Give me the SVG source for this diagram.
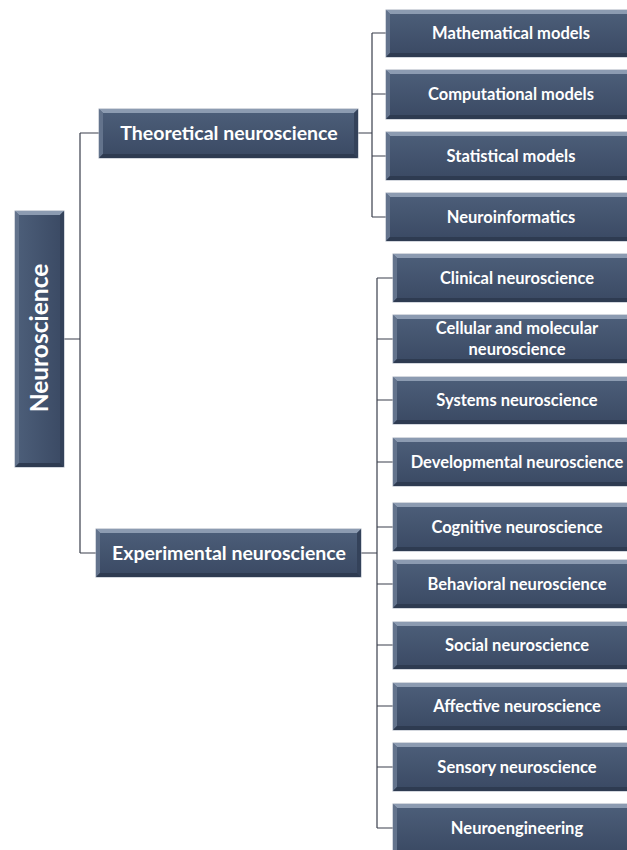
<svg xmlns="http://www.w3.org/2000/svg" width="627" height="850" viewBox="0 0 627 850">
<defs>
<linearGradient id="g" x1="0" y1="0" x2="0" y2="1">
<stop offset="0" stop-color="#4d5f7a"/>
<stop offset="1" stop-color="#3a4963"/>
</linearGradient>
<linearGradient id="gv" x1="0" y1="0" x2="1" y2="0">
<stop offset="0" stop-color="#4d5f7a"/>
<stop offset="1" stop-color="#3a4963"/>
</linearGradient>
</defs>
<style>
.body{fill:url(#g);stroke:#a7b0bd;stroke-width:1}
.tb{fill:#8c9bb1}
.lb{fill:#63738c}
.rb{fill:#34425a}
.bb{fill:#2e3b51}
.t{fill:#ffffff;font-family:Lato,"Liberation Sans",sans-serif;font-weight:bold;text-anchor:middle}
.s{font-size:16.5px}
.m{font-size:19.5px}
.l{font-size:24.5px}
.c{fill:none;stroke:#3a3f4c;stroke-width:1.2}
</style>
<rect width="627" height="850" fill="#ffffff"/>
<g id="connectors">
<path class="c" d="M64 339H80M80 133V553M80 133H99M80 553H96"/>
<path class="c" d="M358 133H372M372 33V217M372 33H386M372 94H386M372 156H386M372 217H386"/>
<path class="c" d="M361 553H377M377 278V828M377 278H393M377 339H393M377 400H393M377 462H393M377 527H393M377 584H393M377 645H393M377 706H393M377 767H393M377 828H393"/>
</g>
<g id="n-root">
<rect class="body" x="15" y="211" width="49" height="256" style="fill:url(#gv)"/>
<polygon class="tb" points="15,211 64,211 60,215 19,215"/>
<polygon class="lb" points="15,211 19,215 19,463 15,467"/>
<polygon class="rb" points="64,211 64,467 60,463 60,215"/>
<polygon class="bb" points="15,467 19,463 60,463 64,467"/>
<text class="t l" transform="translate(47.5,338) rotate(-90)">Neuroscience</text>
</g>
<g id="n-theoretical">
<rect class="body" x="99" y="109" width="259" height="49"/>
<polygon class="tb" points="99,109 358,109 354,113 103,113"/>
<polygon class="lb" points="99,109 103,113 103,154 99,158"/>
<polygon class="rb" points="358,109 358,158 354,154 354,113"/>
<polygon class="bb" points="99,158 103,154 354,154 358,158"/>
<text class="t m" x="229" y="140">Theoretical neuroscience</text>
</g>
<g id="n-experimental">
<rect class="body" x="96" y="529" width="265" height="48"/>
<polygon class="tb" points="96,529 361,529 357,533 100,533"/>
<polygon class="lb" points="96,529 100,533 100,573 96,577"/>
<polygon class="rb" points="361,529 361,577 357,573 357,533"/>
<polygon class="bb" points="96,577 100,573 357,573 361,577"/>
<text class="t m" x="229" y="559.5">Experimental neuroscience</text>
</g>
<g id="n-math">
<rect class="body" x="386" y="10" width="246" height="47"/>
<polygon class="tb" points="386,10 632,10 628,14 390,14"/>
<polygon class="lb" points="386,10 390,14 390,53 386,57"/>
<polygon class="bb" points="386,57 390,53 628,53 632,57"/>
<text class="t s" x="511" y="39">Mathematical models</text>
</g>
<g id="n-comp">
<rect class="body" x="386" y="70" width="246" height="49"/>
<polygon class="tb" points="386,70 632,70 628,74 390,74"/>
<polygon class="lb" points="386,70 390,74 390,115 386,119"/>
<polygon class="bb" points="386,119 390,115 628,115 632,119"/>
<text class="t s" x="511" y="100">Computational models</text>
</g>
<g id="n-stat">
<rect class="body" x="386" y="132" width="246" height="48"/>
<polygon class="tb" points="386,132 632,132 628,136 390,136"/>
<polygon class="lb" points="386,132 390,136 390,176 386,180"/>
<polygon class="bb" points="386,180 390,176 628,176 632,180"/>
<text class="t s" x="511" y="161.5">Statistical models</text>
</g>
<g id="n-neuroinf">
<rect class="body" x="386" y="193" width="246" height="48"/>
<polygon class="tb" points="386,193 632,193 628,197 390,197"/>
<polygon class="lb" points="386,193 390,197 390,237 386,241"/>
<polygon class="bb" points="386,241 390,237 628,237 632,241"/>
<text class="t s" x="511" y="222.5">Neuroinformatics</text>
</g>
<g id="n-clinical">
<rect class="body" x="393" y="254" width="239" height="48"/>
<polygon class="tb" points="393,254 632,254 628,258 397,258"/>
<polygon class="lb" points="393,254 397,258 397,298 393,302"/>
<polygon class="bb" points="393,302 397,298 628,298 632,302"/>
<text class="t s" x="517" y="283.5">Clinical neuroscience</text>
</g>
<g id="n-cellular">
<rect class="body" x="393" y="315" width="239" height="48"/>
<polygon class="tb" points="393,315 632,315 628,319 397,319"/>
<polygon class="lb" points="393,315 397,319 397,359 393,363"/>
<polygon class="bb" points="393,363 397,359 628,359 632,363"/>
<text class="t s" x="517" y="334">Cellular and molecular</text>
<text class="t s" x="517" y="354.5">neuroscience</text>
</g>
<g id="n-systems">
<rect class="body" x="393" y="377" width="239" height="47"/>
<polygon class="tb" points="393,377 632,377 628,381 397,381"/>
<polygon class="lb" points="393,377 397,381 397,420 393,424"/>
<polygon class="bb" points="393,424 397,420 628,420 632,424"/>
<text class="t s" x="517" y="406">Systems neuroscience</text>
</g>
<g id="n-developmental">
<rect class="body" x="393" y="438" width="239" height="48"/>
<polygon class="tb" points="393,438 632,438 628,442 397,442"/>
<polygon class="lb" points="393,438 397,442 397,482 393,486"/>
<polygon class="bb" points="393,486 397,482 628,482 632,486"/>
<text class="t s" x="517" y="467.5">Developmental neuroscience</text>
</g>
<g id="n-cognitive">
<rect class="body" x="393" y="503" width="239" height="48"/>
<polygon class="tb" points="393,503 632,503 628,507 397,507"/>
<polygon class="lb" points="393,503 397,507 397,547 393,551"/>
<polygon class="bb" points="393,551 397,547 628,547 632,551"/>
<text class="t s" x="517" y="532.5">Cognitive neuroscience</text>
</g>
<g id="n-behavioral">
<rect class="body" x="393" y="560" width="239" height="48"/>
<polygon class="tb" points="393,560 632,560 628,564 397,564"/>
<polygon class="lb" points="393,560 397,564 397,604 393,608"/>
<polygon class="bb" points="393,608 397,604 628,604 632,608"/>
<text class="t s" x="517" y="589.5">Behavioral neuroscience</text>
</g>
<g id="n-social">
<rect class="body" x="393" y="622" width="239" height="47"/>
<polygon class="tb" points="393,622 632,622 628,626 397,626"/>
<polygon class="lb" points="393,622 397,626 397,665 393,669"/>
<polygon class="bb" points="393,669 397,665 628,665 632,669"/>
<text class="t s" x="517" y="651">Social neuroscience</text>
</g>
<g id="n-affective">
<rect class="body" x="393" y="683" width="239" height="47"/>
<polygon class="tb" points="393,683 632,683 628,687 397,687"/>
<polygon class="lb" points="393,683 397,687 397,726 393,730"/>
<polygon class="bb" points="393,730 397,726 628,726 632,730"/>
<text class="t s" x="517" y="712">Affective neuroscience</text>
</g>
<g id="n-sensory">
<rect class="body" x="393" y="743" width="239" height="48"/>
<polygon class="tb" points="393,743 632,743 628,747 397,747"/>
<polygon class="lb" points="393,743 397,747 397,787 393,791"/>
<polygon class="bb" points="393,791 397,787 628,787 632,791"/>
<text class="t s" x="517" y="772.5">Sensory neuroscience</text>
</g>
<g id="n-neuroeng">
<rect class="body" x="393" y="804" width="239" height="50"/>
<polygon class="tb" points="393,804 632,804 628,808 397,808"/>
<polygon class="lb" points="393,804 397,808 397,854 393,854"/>
<text class="t s" x="517" y="833.5">Neuroengineering</text>
</g>
</svg>
